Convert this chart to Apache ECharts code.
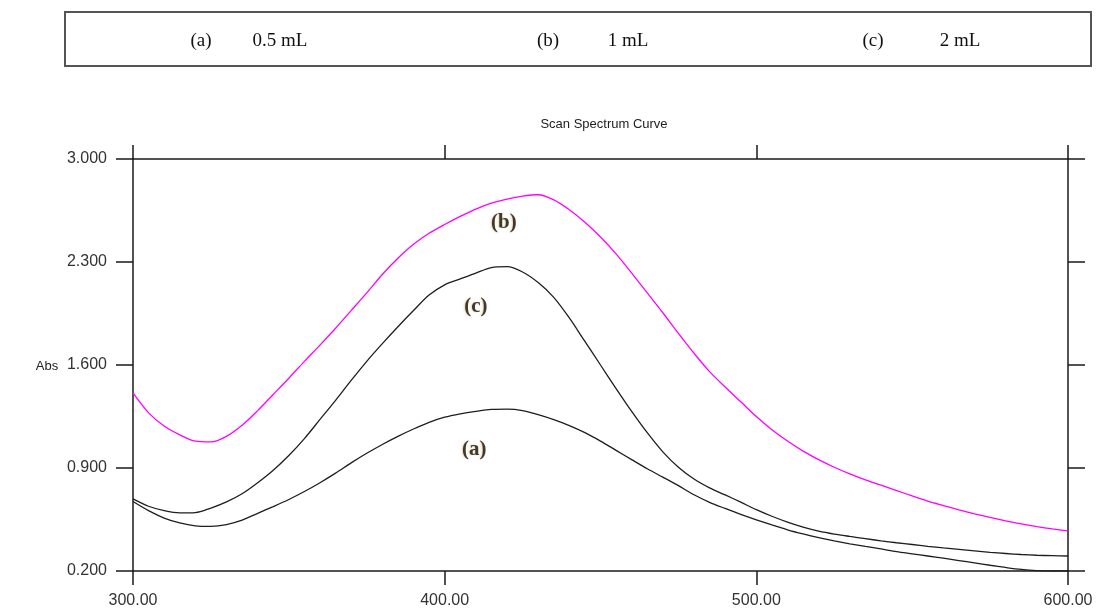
<!DOCTYPE html>
<html>
<head>
<meta charset="utf-8">
<script src="https://cdn.jsdelivr.net/npm/echarts@6/dist/echarts.min.js"></script>
<style>
html,body{margin:0;padding:0;background:#fff;}
#chart{width:1103px;height:616px;}
</style>
</head>
<body>
<div id="chart"></div>
<script>
// Wavelength grid (nm)
const wavelengths = [300,305,310,315,320,325,330,335,340,345,350,355,360,365,370,375,380,385,390,395,400,405,410,415,420,425,430,435,440,445,450,455,460,465,470,475,480,485,490,495,500,505,510,515,520,525,530,535,540,545,550,555,560,565,570,575,580,585,590,595,600];

// (a) 0.5 mL
const absA = [0.672,0.61,0.56,0.527,0.507,0.503,0.515,0.545,0.592,0.638,0.686,0.74,0.80,0.865,0.935,1.0,1.06,1.115,1.165,1.21,1.245,1.268,1.285,1.298,1.30,1.29,1.262,1.228,1.188,1.14,1.083,1.02,0.957,0.895,0.838,0.78,0.718,0.667,0.625,0.585,0.548,0.513,0.48,0.452,0.427,0.405,0.385,0.367,0.35,0.332,0.317,0.302,0.287,0.271,0.255,0.239,0.224,0.211,0.203,0.2,0.2];

// (b) 1 mL
const absB = [1.41,1.275,1.185,1.125,1.082,1.077,1.115,1.19,1.29,1.40,1.51,1.625,1.735,1.85,1.97,2.09,2.215,2.325,2.42,2.495,2.555,2.61,2.66,2.70,2.728,2.748,2.757,2.722,2.655,2.57,2.47,2.355,2.225,2.09,1.955,1.815,1.68,1.555,1.45,1.35,1.25,1.16,1.083,1.015,0.957,0.905,0.86,0.82,0.783,0.747,0.71,0.675,0.645,0.616,0.589,0.564,0.541,0.52,0.502,0.486,0.472];

// (c) 2 mL
const absC = [0.69,0.64,0.61,0.595,0.597,0.628,0.67,0.725,0.80,0.885,0.985,1.10,1.23,1.36,1.495,1.625,1.745,1.86,1.97,2.075,2.145,2.185,2.225,2.262,2.268,2.232,2.16,2.06,1.92,1.76,1.60,1.44,1.285,1.14,1.01,0.905,0.825,0.765,0.717,0.668,0.617,0.572,0.532,0.498,0.471,0.451,0.435,0.42,0.405,0.392,0.38,0.368,0.357,0.347,0.337,0.327,0.319,0.312,0.307,0.304,0.302];

// Axis ticks
const xTicks = [300,400,500,600];
const yTicks = [0.2,0.9,1.6,2.3,3.0];

// Curve annotations (text, wavelength, absorbance)
const curveLabelText = ['(b)','(c)','(a)'];
const curveLabelWl = [419, 410, 409.5];
const curveLabelAbs = [2.567, 1.995, 1.023];

// Legend table text
const legendKeys = ['(a)','(b)','(c)'];
const legendVolumes = ['0.5 mL','1 mL','2 mL'];

function pairs(ys){ return wavelengths.map((w,i)=>[w, ys[i]]); }

const chart = echarts.init(document.getElementById('chart'), null, {renderer:'canvas'});

const axisLineStyle = {color:'#1a1a1a', width:1.5};
const labelFont = {fontFamily:'Liberation Sans, Arial, sans-serif', fontSize:16, color:'#333'};

const legendX = [[201, 280], [548, 628], [873, 960]];
const graphics = [
  {type:'rect', shape:{x:65, y:12, width:1026, height:54}, style:{fill:'none', stroke:'#555', lineWidth:2}},
  {type:'text', x:604, y:124, style:{text:'Scan Spectrum Curve', fontFamily:'Liberation Sans, Arial, sans-serif', fontSize:13, fill:'#222', align:'center', verticalAlign:'middle'}},
  {type:'text', x:47, y:366, style:{text:'Abs', fontFamily:'Liberation Sans, Arial, sans-serif', fontSize:13, fill:'#222', align:'center', verticalAlign:'middle'}}
];
legendKeys.forEach((k,i)=>{
  graphics.push({type:'text', x:legendX[i][0], y:41, style:{text:k, fontFamily:'Liberation Serif, Times New Roman, serif', fontSize:19, fill:'#111', align:'center', verticalAlign:'middle'}});
  graphics.push({type:'text', x:legendX[i][1], y:41, style:{text:legendVolumes[i], fontFamily:'Liberation Serif, Times New Roman, serif', fontSize:19, fill:'#111', align:'center', verticalAlign:'middle'}});
});

const option = {
  backgroundColor:'#fff',
  animation:false,
  grid:{left:133, right:35, top:159, bottom:45, containLabel:false},
  xAxis:[
    {type:'value', position:'bottom', min:300, max:600, interval:100,
     axisLine:{show:true, onZero:false, lineStyle:axisLineStyle},
     axisTick:{show:true, inside:false, length:14, lineStyle:axisLineStyle},
     axisLabel:Object.assign({margin:22, formatter:v=>v.toFixed(2)}, labelFont),
     splitLine:{show:false}},
    {type:'value', position:'top', min:300, max:600, interval:100,
     axisLine:{show:true, onZero:false, lineStyle:axisLineStyle},
     axisTick:{show:true, inside:false, length:14, lineStyle:axisLineStyle},
     axisLabel:{show:false}, splitLine:{show:false}}
  ],
  yAxis:[
    {type:'value', position:'left', min:0.2, max:3.0,
     axisLine:{show:true, onZero:false, lineStyle:axisLineStyle},
     axisTick:{show:true, inside:false, length:17, lineStyle:axisLineStyle, customValues:yTicks},
     axisLabel:Object.assign({margin:26, customValues:yTicks, formatter:v=>v.toFixed(3)}, labelFont),
     splitLine:{show:false}},
    {type:'value', position:'right', min:0.2, max:3.0,
     axisLine:{show:true, onZero:false, lineStyle:axisLineStyle},
     axisTick:{show:true, inside:false, length:17, lineStyle:axisLineStyle, customValues:yTicks},
     axisLabel:{show:false, customValues:yTicks}, splitLine:{show:false}}
  ],
  graphic:graphics,
  series:[
    {name:'(a) 0.5 mL', type:'line', data:pairs(absA), showSymbol:false, symbol:'none', smooth:0.3,
     lineStyle:{color:'#1e1e1e', width:1.3}, xAxisIndex:0, yAxisIndex:0, z:3},
    {name:'(b) 1 mL', type:'line', data:pairs(absB), showSymbol:false, symbol:'none', smooth:0.3,
     lineStyle:{color:'#ff00ff', width:1.3}, xAxisIndex:0, yAxisIndex:0, z:3},
    {name:'(c) 2 mL', type:'line', data:pairs(absC), showSymbol:false, symbol:'none', smooth:0.3,
     lineStyle:{color:'#1e1e1e', width:1.3}, xAxisIndex:0, yAxisIndex:0, z:3},
    {type:'scatter', symbolSize:0, silent:true, xAxisIndex:0, yAxisIndex:0, z:4,
     data:curveLabelText.map((t,i)=>({value:[curveLabelWl[i], curveLabelAbs[i]], name:t})),
     label:{show:true, position:'inside', formatter:p=>p.name,
       fontFamily:'Liberation Serif, Cambria, serif', fontWeight:'bold', fontSize:21, color:'#140e06',
       textShadowColor:'rgba(210,140,40,0.5)', textShadowBlur:2, textShadowOffsetX:-1}}
  ]
};
chart.setOption(option);
</script>
</body>
</html>
